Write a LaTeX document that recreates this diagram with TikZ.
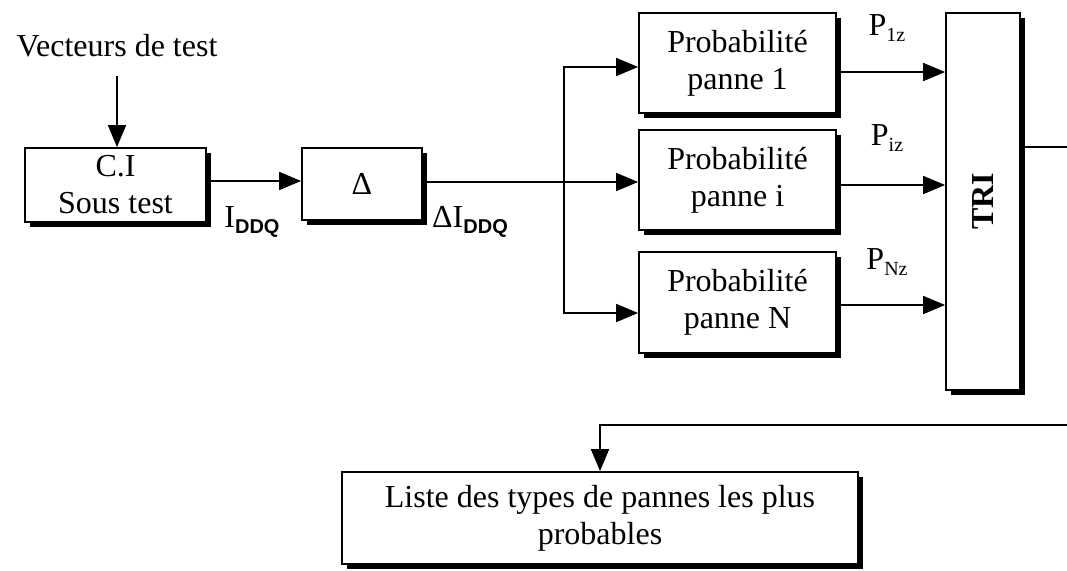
\documentclass[tikz,border=0pt]{standalone}
\usepackage{fontspec}
\setmainfont{Liberation Serif}
\newfontfamily\subsans{Liberation Sans}
\usetikzlibrary{arrows.meta,shadows}
\newcommand\sbs[1]{\raisebox{-6pt}{\fontsize{20}{20}\selectfont #1}}
\begin{document}
\begin{tikzpicture}[x=1pt,y=-1pt,
  box/.style={draw, line width=1.8pt, fill=white, align=center, inner sep=0pt,
    drop shadow={shadow xshift=5pt, shadow yshift=-5pt, opacity=1, fill=black}},
  wire/.style={line width=1.8pt},
  arr/.style={wire, -{Triangle[length=22pt,width=18pt]}},
  lbl/.style={inner sep=0pt},
  font=\fontsize{32}{37}\selectfont]
\useasboundingbox (0,0) rectangle (1067,570);

% nodes
\node[lbl] (vec) at (117,46) {Vecteurs de test};
\node[box, minimum width=181pt, minimum height=74pt] (ci) at (115.5,185) {C.I\\Sous test};
\node[box, minimum width=120pt, minimum height=72pt] (d) at (362,184) {Δ};
\node[box, minimum width=197pt, minimum height=100pt] (p1) at (737.5,63) {Probabilité\\panne 1};
\node[box, minimum width=197pt, minimum height=100pt] (pi) at (737.5,180) {Probabilité\\panne i};
\node[box, minimum width=197pt, minimum height=101pt] (pN) at (737.5,302.5) {Probabilité\\panne N};
\node[box, minimum width=74pt, minimum height=377pt] (tri) at (983,201.5) {\rotatebox{90}{\bfseries TRI}};
\node[box, minimum width=516pt, minimum height=92pt] (lst) at (600,518) {Liste des types de pannes les plus\\probables};

% labels
\node[lbl] (liddq) at (252,222) {I\sbs{\subsans\bfseries DDQ}};
\node[lbl] (ldiddq) at (470,222) {ΔI\sbs{\subsans\bfseries DDQ}};
\node[lbl] (lp1) at (887,28) {P\sbs{1z}};
\node[lbl] (lpi) at (887,138) {P\sbs{iz}};
\node[lbl] (lpN) at (887,262) {P\sbs{Nz}};

% coordinates
\coordinate (vs) at (117,76);
\coordinate (a1) at (0,181);
\coordinate (m) at (0,182);
\coordinate (jm) at (564,182);
\coordinate (j1) at (564,67);
\coordinate (jN) at (564,313);
\coordinate (o1) at (0,72);
\coordinate (oi) at (0,185);
\coordinate (oN) at (0,305);
\coordinate (e1) at (1067,147);
\coordinate (e2) at (1067,425);

% connectors
\draw[arr] (vs) -- (vs |- ci.north);
\draw[arr] (ci.east |- a1) -- (d.west |- a1);
\draw[arr] (d.east |- m) -- (pi.west |- m);
\draw[arr] (jm) |- (p1.west |- j1);
\draw[arr] (jm) |- (pN.west |- jN);
\draw[arr] (p1.east |- o1) -- (tri.west |- o1);
\draw[arr] (pi.east |- oi) -- (tri.west |- oi);
\draw[arr] (pN.east |- oN) -- (tri.west |- oN);
\draw[wire] (tri.east |- e1) -- (e1);
\draw[arr] (e2) -| (lst.north);
\end{tikzpicture}
\end{document}
